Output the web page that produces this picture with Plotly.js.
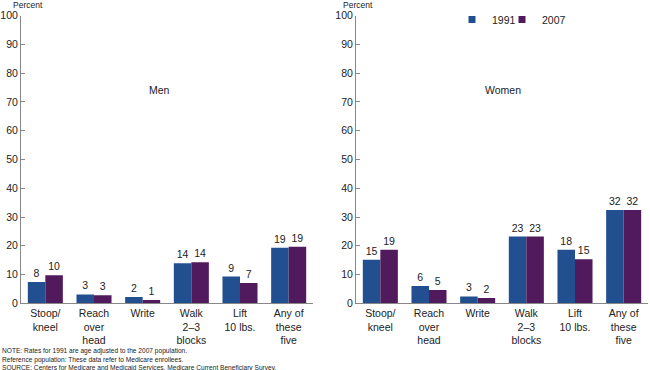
<!DOCTYPE html>
<html>
<head>
<meta charset="utf-8">
<script src="https://cdn.plot.ly/plotly-3.0.1.min.js"></script>
<style>html,body{margin:0;padding:0;background:#fff;}#chart{width:650px;height:370px;}</style>
</head>
<body>
<div id="chart"></div>
<script>
const categories = ["Stoop/<br>kneel", "Reach<br>over<br>head", "Write", "Walk<br>2–3<br>blocks", "Lift<br>10 lbs.", "Any of<br>these<br>five"];
const men1991 = [7.4, 3.1, 2.2, 13.9, 9.3, 19.3];
const men2007 = [9.75, 2.8, 1.15, 14.3, 7.1, 19.7];
const men1991Labels = ["8", "3", "2", "14", "9", "19"];
const men2007Labels = ["10", "3", "1", "14", "7", "19"];
const women1991 = [15.1, 6.0, 2.4, 23.2, 18.6, 32.4];
const women2007 = [18.6, 4.6, 1.8, 23.2, 15.3, 32.4];
const women1991Labels = ["15", "6", "3", "23", "18", "32"];
const women2007Labels = ["19", "5", "2", "23", "15", "32"];
const yTicks = [0, 10, 20, 30, 40, 50, 60, 70, 80, 90, 100];
const seriesNames = ["1991", "2007"];
const colors = ["#224f90", "#511a5c"];

const font = "Liberation Sans, Arial, sans-serif";
function bar(x, y, labels, name, color, xa, ya) {
  return {type: "bar", x: x, y: y, name: name, text: labels, textposition: "outside",
    textfont: {family: font, size: 10.5, color: "#222"}, marker: {color: color, line: {width: 0}},
    xaxis: xa, yaxis: ya, showlegend: false, cliponaxis: false, hoverinfo: "skip"};
}
const data = [
  bar(categories, men1991, men1991Labels, seriesNames[0], colors[0], "x", "y"),
  bar(categories, men2007, men2007Labels, seriesNames[1], colors[1], "x", "y"),
  bar(categories, women1991, women1991Labels, seriesNames[0], colors[0], "x2", "y2"),
  bar(categories, women2007, women2007Labels, seriesNames[1], colors[1], "x2", "y2"),
  {type: "scatter", mode: "markers", x: [null], y: [null], name: seriesNames[0], legend: "legend", marker: {symbol: "square", size: 7, color: colors[0]}, xaxis: "x2", yaxis: "y2"},
  {type: "scatter", mode: "markers", x: [null], y: [null], name: seriesNames[1], legend: "legend2", marker: {symbol: "square", size: 7, color: colors[1]}, xaxis: "x2", yaxis: "y2"}
];
const yDom = [(370 - 303.3) / 370, (370 - 15.7) / 370];
function xaxis(dom) {
  return {domain: dom, showline: true, linecolor: "#888", linewidth: 1, ticks: "", showgrid: false, zeroline: false,
    tickfont: {family: font, size: 10.5, color: "#222"}, fixedrange: true};
}
function yaxis(anchor) {
  return {domain: yDom, anchor: anchor, range: [0, 100], tickvals: yTicks, ticks: "inside", ticklen: 4, tickcolor: "#888",
    showline: true, linecolor: "#888", linewidth: 1, showgrid: false, zeroline: false,
    tickfont: {family: font, size: 10.5, color: "#222"}, fixedrange: true};
}
function legendAt(px) {
  return {orientation: "h", x: px / 650, y: 1 - 5 / 370, xanchor: "left", yanchor: "top",
    font: {family: font, size: 10.5, color: "#222"}, itemwidth: 30, bgcolor: "rgba(0,0,0,0)"};
}
const layout = {
  width: 650, height: 370, margin: {l: 0, r: 0, t: 0, b: 0},
  paper_bgcolor: "#fff", plot_bgcolor: "#fff",
  barmode: "group", bargap: 0.28, bargroupgap: 0,
  xaxis: Object.assign(xaxis([21 / 650, 313 / 650]), {anchor: "y"}),
  yaxis: yaxis("x"),
  xaxis2: Object.assign(xaxis([356 / 650, 648 / 650]), {anchor: "y2"}),
  yaxis2: yaxis("x2"),
  showlegend: true,
  legend: legendAt(452),
  legend2: legendAt(502),
  annotations: [
    {text: "Percent", x: 11 / 650, y: 1 + 2 / 370, xref: "paper", yref: "paper", xanchor: "left", yanchor: "top", showarrow: false, font: {family: font, size: 8.5, color: "#222"}},
    {text: "Percent", x: 341 / 650, y: 1 + 2 / 370, xref: "paper", yref: "paper", xanchor: "left", yanchor: "top", showarrow: false, font: {family: font, size: 8.5, color: "#222"}},
    {text: "Men", x: 159 / 650, y: 1 - 90 / 370, xref: "paper", yref: "paper", xanchor: "center", yanchor: "middle", showarrow: false, font: {family: font, size: 10.5, color: "#222"}},
    {text: "Women", x: 503 / 650, y: 1 - 90 / 370, xref: "paper", yref: "paper", xanchor: "center", yanchor: "middle", showarrow: false, font: {family: font, size: 10.5, color: "#222"}},
    {text: "NOTE: Rates for 1991 are age adjusted to the 2007 population.<br>Reference population: These data refer to Medicare enrollees.<br>SOURCE: Centers for Medicare and Medicaid Services, Medicare Current Beneficiary Survey.",
      x: 0, y: -4 / 370, xref: "paper", yref: "paper", xanchor: "left", yanchor: "bottom", align: "left", showarrow: false, font: {family: font, size: 6.6, color: "#222"}}
  ]
};
Plotly.newPlot("chart", data, layout, {displayModeBar: false, staticPlot: true});
</script>
</body>
</html>
